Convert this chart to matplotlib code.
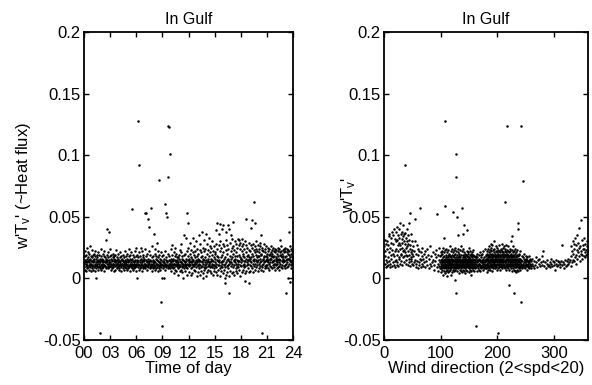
import numpy as np
import matplotlib
matplotlib.use("Agg")
import matplotlib.pyplot as plt
from matplotlib.ticker import FixedLocator, FixedFormatter

plt.rcParams['font.family'] = ['Liberation Sans', 'DejaVu Sans']
plt.rcParams['mathtext.fontset'] = 'custom'
plt.rcParams['mathtext.rm'] = 'Liberation Sans'
plt.rcParams['mathtext.it'] = 'Liberation Sans'

# ---- data -------------------------------------------------------------
# Left panel: heat flux (units of 1e-3), samples within each 10-minute time-of-day slot (144 slots)
slot_minutes = 10
flux_by_slot = [
    [12,9,15,18,7,13,22],[10,14,6,19,12,16,25],[13,8,11,17,21,9,14],[15,11,7,20,13,10,26],[9,16,12,6,18,14,11],[12,10,17,8,23,14,19],
    [11,15,7,13,20,9,16],[14,10,18,12,6,22,0],[8,13,16,11,19,10,14],[12,17,9,15,7,21,13],[10,14,19,12,8,16,-44],[13,9,15,11,18,24,7],
    [12,16,8,14,10,20,11],[15,9,13,18,11,6,22],[11,14,10,17,13,8,31],[9,13,16,12,19,15,40],[14,10,12,8,17,21,38],[12,15,9,13,18,10,24],
    [10,13,7,16,12,19,9],[14,11,15,8,20,12,17],[9,12,16,11,6,14,18],[13,10,15,7,19,12,23],[11,14,9,17,12,8,15],[12,16,10,13,20,7,14],
    [10,14,8,12,17,11,21],[13,9,15,11,6,18,12],[11,16,12,8,14,19,10],[14,10,13,17,7,12,22],[9,12,15,11,18,8,13],[12,14,10,16,7,20,11],
    [11,13,8,15,10,18,24],[14,9,12,16,6,19,11],[10,15,11,13,21,8,56],[12,9,16,11,14,7,19],[13,10,17,12,8,15,22],[11,14,9,18,12,6,25],
    [10,13,0,15,11,19,128],[14,9,12,17,7,21,92],[11,15,10,13,18,8,25],[12,9,16,11,14,22,6],[13,11,8,17,10,19,15],[10,14,12,9,16,24,53],
    [12,8,15,11,18,10,53],[14,10,13,7,20,12,48],[11,16,9,14,12,22,42],[13,10,15,8,19,11,57],[12,9,14,17,11,6,26],[10,15,12,8,18,13,36],
    [11,14,9,13,20,7,24],[13,10,16,12,8,18,29],[12,15,9,11,17,6,22],[14,11,13,8,19,10,80],[10,13,16,12,7,21,-19],[12,9,15,11,18,0,-39],
    [11,14,8,13,19,10,0],[13,10,16,12,7,22,60],[12,9,15,11,17,53,50],[14,11,13,8,20,124,82],[10,15,12,9,18,123,101],[12,8,14,11,16,24,6],
    [13,10,15,9,19,12,27],[11,14,8,16,12,21,4],[12,9,15,11,18,7,25],[14,11,13,6,20,10,17],[10,15,12,8,17,13,3],[12,9,16,11,19,6,23],
    [11,14,10,13,21,7,28],[13,9,16,12,5,18,0],[12,15,10,11,19,8,35],[14,10,13,6,20,12,33],[11,16,9,14,3,22,53],[12,8,15,11,18,25,45],
    [13,10,16,12,5,20,29],[11,14,8,17,13,23,3],[12,16,9,14,4,21,33],[14,11,15,7,19,26,12],[10,13,17,6,22,12,30],[12,15,9,14,2,24,18],
    [13,10,16,11,20,5,35],[12,15,8,14,23,3,28],[11,14,17,9,21,6,38],[14,10,13,18,4,25,0],[12,16,9,15,22,7,31],[13,11,17,8,24,2,36],
    [12,15,9,13,20,5,28],[14,10,16,7,23,12,33],[11,13,18,6,21,9,26],[13,16,10,4,25,14,30],[12,9,15,19,3,22,11],[14,11,17,8,26,6,20],
    [13,16,10,21,5,28,39],[12,9,15,24,3,18,45],[14,11,17,7,27,13,36],[11,15,8,22,2,30,44],[13,17,10,25,6,19,40],[12,14,9,28,4,21,43],
    [14,11,16,7,26,-4,0],[12,17,9,23,3,31,38],[13,15,10,27,5,20,43],[11,16,8,24,2,-12,40],[14,12,18,6,29,13,35],[13,10,16,22,4,32,25],
    [12,17,9,26,5,20,46],[14,11,15,23,3,30,18],[13,16,8,28,6,21,12],[15,10,18,25,4,32,14],[12,14,9,27,7,19,31],[14,17,11,24,2,29,16],
    [13,16,10,26,5,22,32],[15,11,18,28,7,20,14],[12,17,9,24,4,30,-2],[14,10,16,27,6,21,48],[13,18,11,25,8,19,15],[15,12,17,29,5,23,-4],
    [14,11,16,22,6,27,41],[13,17,10,25,8,20,47],[15,12,18,28,5,23,62],[14,10,16,21,7,26,45],[12,15,19,24,9,30,13],[14,17,11,22,6,27,18],
    [15,12,18,24,8,21,29],[13,16,10,26,7,20,35],[14,19,11,23,9,25,-44],[16,12,15,22,6,28,18],[13,17,10,24,8,21,14],[15,11,18,26,9,20,16],
    [14,17,11,22,8,25,13],[15,12,19,24,7,20,16],[13,16,10,21,9,26,18],[16,13,18,23,8,20,14],[14,11,17,25,9,22,12],[15,18,12,21,7,24,16],
    [14,17,11,23,8,20,13],[16,12,18,22,9,25,15],[13,16,10,24,7,21,31],[15,12,19,22,9,26,18],[14,17,11,20,8,23,15],[16,13,18,24,10,21,14],
    [14,11,17,22,8,25,-12],[15,18,12,21,9,24,16],[13,16,10,23,0,20,38],[16,12,19,22,-3,26,15],[14,17,11,20,8,24,13],[15,12,18,22,5,0,17],
]

# Right panel: heat flux (units of 1e-3), samples within each 2-degree wind-direction bin (180 bins)
dir_bin_width = 2
flux_by_dir = [
    [26,12,31,18],[22,9,28,15],[30,13,24,10],[17,27,11,34],[21,36,14,9],[25,12,33,19],[16,29,10,38],[23,13,35,20],[28,11,18,40],[14,32,22,9],
    [24,38,15,30,11],[31,19,42,13,27],[22,35,10,29,17],[33,16,40,24,12],[27,45,19,36,14],[20,32,11,38,25],[29,17,43,22,34],[23,36,13,30,18],
    [37,21,28,92,15],[25,33,12,19,40],[30,18,26,11,35],[22,28,16,45,13],[19,31,24,53,10],[27,14,21,36,17],[16,23,30,12,20],
    [18,26,11],[22,13,30],[15,48,9],[20,12,27],[14,24,8],[19,11,22],[13,57,16],[21,9,15],[12,18,25],[16,10,20],
    [13,22],[9,17],[14,24],[11,19],[16,8],[12,26],[18,10],[13,21],[15,7],[11,20],[14,23],[17,9,52],[12,19,6],[15,10,25],[13,18,8,21],
    [12,8,15,10,19,5,13,22,9,14],[11,16,7,13,20,10,3,14,9,25],[13,9,17,11,6,15,21,12,8,33],[10,14,18,12,4,16,9,23,13,59,128],
    [12,15,8,11,19,6,14,10,24,17],[14,9,16,12,21,7,13,11,2,18],[11,13,17,8,15,10,23,5,12,19],[13,16,9,12,20,6,14,11,26,8],
    [10,15,12,18,7,13,22,9,16,3],[12,14,8,17,11,19,5,13,24,10],[13,10,16,12,21,7,15,9,18,54],[11,15,8,14,19,12,6,17,10,23],
    [12,9,16,13,20,7,11,25,14,-1],[10,14,17,12,8,22,15,-12,13,101,82,50],[13,16,9,12,19,6,14,11,24,35],[11,15,8,13,21,10,17,4,12,18],
    [14,9,16,11,20,7,13,23,10,15],[12,15,10,17,6,13,19,9,26,14],[11,14,8,16,12,22,5,15,10,57],[13,10,17,12,19,7,14,24,9,36],
    [12,16,9,14,21,6,11,18,13,43],[10,15,12,17,8,20,13,4,16,11],[14,11,16,9,19,13,7,22,12,39],[12,15,10,18,6,14,21,9,13,17],
    [13,9,16,11,20,8,15,12,25,5],[11,14,17,10,19,7,13,22,9,16],[12,16,9,14,20,6,11,18,13,3],[10,13,17,12,8,21,15,9,14,19],
    [13,11,16,9,19,12,7,15,23,10],[12,15,10,14,18,6,13,9,17,11],
    [11,15,8,13,18,-39],[12,9,16,6,14,20],[13,10,17,8,15,11],[10,14,7,19,12,16],[12,9,15,11,21,6],[14,10,17,8,13,19],
    [11,15,9,13,20,7],[13,10,16,12,22,8],[12,17,9,14,11,24],[10,15,13,19,8,16],
    [14,11,18,8,16,22,12,5,20,15],[12,16,10,19,7,14,24,13,17,9],[15,11,17,13,21,8,26,14,10,18],[13,18,10,15,23,7,16,12,20,28],
    [14,11,19,16,9,22,13,25,17,6],[12,17,14,20,10,15,27,8,18,13],[15,12,19,9,16,23,13,21,11,30],[13,18,11,15,24,8,17,14,20,10],
    [16,12,19,14,22,9,15,26,11,18],[14,17,10,21,13,7,19,16,25,12],[12,15,18,11,20,8,14,23,17,-44],[15,11,19,13,22,9,16,27,12,18],
    [13,17,10,15,21,7,19,14,24,11],[16,12,18,14,23,9,15,20,28,13],[14,19,11,16,22,8,17,13,25,10],[12,15,18,21,9,14,26,17,11,20],
    [15,11,17,13,24,8,19,14,22,62],[13,18,10,16,21,7,15,27,12,19],[14,17,12,20,9,16,23,11,18,124],[12,16,19,13,8,22,15,10,26,-5],
    [15,11,18,14,21,7,17,13,24,10],[13,16,10,19,12,22,8,15,30,18],[14,11,17,13,20,6,16,23,12,34],[12,15,18,10,21,8,14,19,11,26],
    [13,17,11,15,22,7,18,12,-12,16],[14,10,16,12,20,6,15,24,9,13],[12,15,9,17,11,21,5,14,18,10],[13,16,10,14,19,7,12,23,45,40],
    [11,15,9,13,18,6,14,20,10,16],[12,14,8,16,11,19,7,13,22,9],
    [13,9,16,11,-19,124],[12,15,8,18,10],[14,10,17,12,79],[11,16,9,13,20],[13,8,15,11,18],
    [12,16,10,14,7],[15,11,17,9,13],[10,14,12,18,8],[13,9,16,11,15],[12,15,8,14,10],
    [12,16],[10],[14,8],[11,17],[13],[9,15],[12],[16,10],[13],[11,18],
    [14,22],[10],[13,8],[12],[15,10],[11],[13,9],[12,16],[10],[14,11],
    [13,7],[12],[15,10],[11,14],[13],[9,12],[14,27],[11],[13,8],[12,15],
    [10],[14,11],[12,16],[13],[15,10],
    [18,26,13],[22,15,30],[20,28,14],[24,17,33],[19,27,12],[23,16,35],[21,29,41],[18,25,14],
    [26,20,47],[22,31,16],[19,27,24],[24,18,33],[21,28,17],[23,19,30],[20,26,22],
]

left_xticks = [0, 3, 6, 9, 12, 15, 18, 21, 24]
left_xticklabels = ["00", "03", "06", "09", "12", "15", "18", "21", "24"]
right_xticks = [0, 100, 200, 300]
yticks = [-0.05, 0, 0.05, 0.1, 0.15, 0.2]
yticklabels = ["-0.05", "0", "0.05", "0.1", "0.15", "0.2"]

# ---- expand to points (samples spread through their slot / bin) -------
hours, flux_l = [], []
for i, vals in enumerate(flux_by_slot):
    n = len(vals)
    for j, v in enumerate(vals):
        hours.append((i + (j + 0.5) / n) * slot_minutes / 60.0)
        flux_l.append(v / 1000.0)

dirs, flux_r = [], []
for i, vals in enumerate(flux_by_dir):
    n = len(vals)
    for j, v in enumerate(vals):
        dirs.append((i + (j + 0.5) / n) * dir_bin_width)
        flux_r.append(v / 1000.0)

# ---- figure ------------------------------------------------------------
fig = plt.figure(figsize=(5.92, 3.85), dpi=100)
ax1 = fig.add_axes([0.142, 0.117, 0.353, 0.800])
ax2 = fig.add_axes([0.649, 0.117, 0.344, 0.800])

FS = 12
for ax in (ax1, ax2):
    ax.set_ylim(-0.05, 0.2)
    ax.yaxis.set_major_locator(FixedLocator(yticks))
    ax.yaxis.set_major_formatter(FixedFormatter(yticklabels))
    ax.tick_params(direction='in', top=True, right=True, length=3.5, width=1.0,
                   labelsize=FS)
    ax.tick_params(axis='y', pad=2.5)
    ax.tick_params(axis='x', pad=4.5)
    for s in ax.spines.values():
        s.set_linewidth(1.3)
    ax.set_title("In Gulf", fontsize=11.5, pad=6)

ax1.scatter(hours, flux_l, s=3.2, c='black', marker='o', linewidths=0)
ax1.set_xlim(0, 24)
ax1.xaxis.set_major_locator(FixedLocator(left_xticks))
ax1.xaxis.set_major_formatter(FixedFormatter(left_xticklabels))
ax1.set_xlabel("Time of day", fontsize=FS, labelpad=0)
ax1.set_ylabel(r"w'T$_v$' (~Heat flux)", fontsize=FS)
ax1.yaxis.set_label_coords(-0.245, 0.5)

ax2.scatter(dirs, flux_r, s=3.2, c='black', marker='o', linewidths=0)
ax2.set_xlim(0, 360)
ax2.xaxis.set_major_locator(FixedLocator(right_xticks))
ax2.set_xlabel("Wind direction (2<spd<20)", fontsize=FS, labelpad=0)
ax2.set_ylabel(r"w'T$_v$'", fontsize=FS)
ax2.yaxis.set_label_coords(-0.13, 0.47)

fig.savefig("out.png", dpi=100)
